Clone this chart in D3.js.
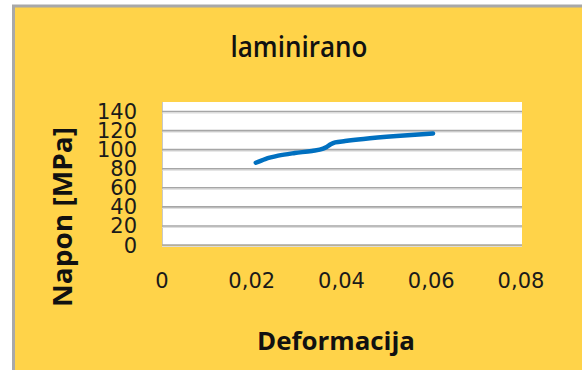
<!DOCTYPE html>
<html>
<head>
<meta charset="utf-8">
<script src="https://cdn.jsdelivr.net/npm/d3@7/dist/d3.min.js"></script>
<style>
  html, body { margin: 0; padding: 0; background: #ffffff; }
  svg { display: block; }
</style>
</head>
<body>
<svg id="chart" width="582" height="370"></svg>
<script>
// Stress–strain curve for the laminated specimen
const strain = [0.0209, 0.0230, 0.0259, 0.0296, 0.0334, 0.0359, 0.0367, 0.0376, 0.0386, 0.0408, 0.0449, 0.0523, 0.0604];
const stress = [86.3, 90.2, 93.7, 96.5, 98.7, 101.0, 102.8, 105.6, 107.6, 109.0, 111.2, 114.3, 117.0];

const xTicks = [0, 0.02, 0.04, 0.06, 0.08];
const yTicks = [0, 20, 40, 60, 80, 100, 120, 140];

const titleText = "laminirano";
const xTitle = "Deformacija";
const yTitle = "Napon [MPa]";

const svg = d3.select("#chart");

// chart frame
svg.append("rect")
  .attr("x", 13.5).attr("y", 6)
  .attr("width", 600).attr("height", 400)
  .attr("fill", "#FFD349")
  .attr("stroke", "#A8A8A8")
  .attr("stroke-width", 3);

const plot = { left: 162, right: 522, top: 102, bottom: 245 };

const x = d3.scaleLinear().domain([0, 0.08]).range([plot.left, plot.right - 1]);
const y = d3.scaleLinear().domain([0, 150]).range([plot.bottom, plot.top]);

// plot area
svg.append("rect")
  .attr("x", plot.left).attr("y", plot.top)
  .attr("width", plot.right - plot.left).attr("height", plot.bottom - plot.top)
  .attr("fill", "#ffffff");

svg.append("line")
  .attr("x1", plot.left + 0.5).attr("x2", plot.left + 0.5)
  .attr("y1", plot.top).attr("y2", plot.bottom)
  .attr("stroke", "#C8C8C8").attr("stroke-width", 1);

// horizontal gridlines
const grid = svg.append("g");
grid.selectAll("line.shadow")
  .data(yTicks)
  .join("line")
  .attr("class", "shadow")
  .attr("x1", plot.left).attr("x2", plot.right)
  .attr("y1", d => y(d) + 1.5).attr("y2", d => y(d) + 1.5)
  .attr("stroke", "#DCDCDC").attr("stroke-width", 1);
grid.selectAll("line.main")
  .data(yTicks)
  .join("line")
  .attr("class", "main")
  .attr("x1", plot.left).attr("x2", plot.right)
  .attr("y1", d => y(d)).attr("y2", d => y(d))
  .attr("stroke", "#A6A6A6").attr("stroke-width", 1.6);

// tick labels
const fmtX = d => d === 0 ? "0" : d.toFixed(2).replace(".", ",");
svg.append("g")
  .selectAll("text")
  .data(xTicks)
  .join("text")
  .attr("x", d => x(d))
  .attr("y", 288)
  .attr("text-anchor", "middle")
  .attr("font-family", "DejaVu Sans")
  .attr("font-size", 21)
  .attr("fill", "#1a1a1a")
  .text(fmtX);

svg.append("g")
  .selectAll("text")
  .data(yTicks)
  .join("text")
  .attr("x", 137)
  .attr("y", d => y(d))
  .attr("dy", "0.36em")
  .attr("text-anchor", "end")
  .attr("font-family", "DejaVu Sans")
  .attr("font-size", 21)
  .attr("fill", "#1a1a1a")
  .text(d => d);

// curve
const line = d3.line()
  .x((d, i) => x(strain[i]))
  .y((d, i) => y(stress[i]))
  .curve(d3.curveMonotoneX);

svg.append("path")
  .datum(strain)
  .attr("d", line)
  .attr("fill", "none")
  .attr("stroke", "#0070C0")
  .attr("stroke-width", 4.5)
  .attr("stroke-linecap", "round")
  .attr("stroke-linejoin", "round");

// titles
svg.append("text")
  .attr("x", 299).attr("y", 56.5)
  .attr("text-anchor", "middle")
  .attr("font-family", "Open Sans")
  .attr("font-weight", 600)
  .attr("font-size", 28)
  .attr("textLength", 137)
  .attr("lengthAdjust", "spacingAndGlyphs")
  .attr("fill", "#111")
  .text(titleText);

svg.append("text")
  .attr("x", 336).attr("y", 350)
  .attr("text-anchor", "middle")
  .attr("font-family", "Open Sans")
  .attr("font-weight", 700)
  .attr("font-size", 25)
  .attr("textLength", 158)
  .attr("lengthAdjust", "spacingAndGlyphs")
  .attr("fill", "#111")
  .text(xTitle);

svg.append("text")
  .attr("transform", "translate(72,217) rotate(-90)")
  .attr("text-anchor", "middle")
  .attr("font-family", "Open Sans")
  .attr("font-weight", 700)
  .attr("font-size", 26)
  .attr("textLength", 180)
  .attr("lengthAdjust", "spacingAndGlyphs")
  .attr("fill", "#111")
  .text(yTitle);
</script>
</body>
</html>
